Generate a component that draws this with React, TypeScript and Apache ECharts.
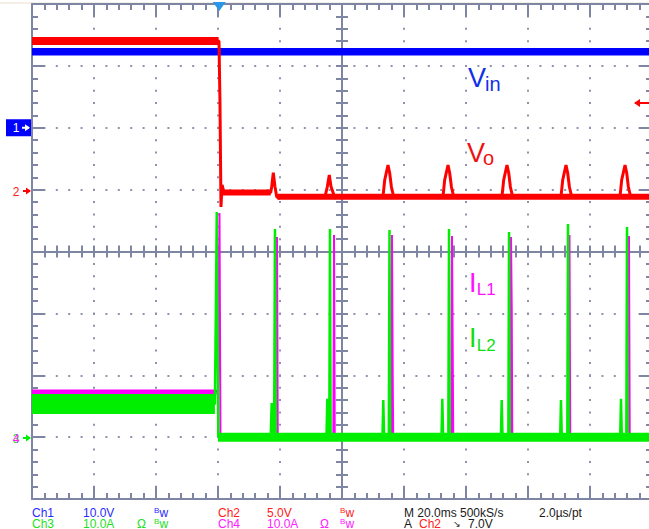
import { useEffect, useRef } from "react";
import * as echarts from "echarts";

// ---------- screen: 10 x 8 divisions (data in division units) ----------
const X_MIN = -5;
const X_MAX = 5;
const Y_MIN = -4;
const Y_MAX = 4;

// ---------- Ch1 : Vin ----------
const vinTrace: number[][] = [[-5, 3.228], [-1.98, 3.228], [5, 3.228]];

// ---------- Ch2 : Vo ----------
const voHighBand: number[][] = [[-5, 3.402], [-1.99, 3.402]];
const voLowBand1: number[][] = [[-1.93, 0.954], [-1.15, 0.954]];
const voLowBand2: number[][] = [[-1.04, 0.885], [5, 0.885]];
const voTrace: number[][] = [
  [-5, 3.402], [-1.984, 3.402],
  [-1.968, 2.4], [-1.952, 0.72], [-1.935, 1.075], [-1.903, 0.954],
  [-1.15, 0.954], [-1.134, 1.047], [-1.108, 1.274], [-1.081, 1.047], [-1.053, 0.886], [-1.016, 0.86], [-0.98, 0.885],
  [-0.274, 0.885], [-0.237, 1.047], [-0.205, 1.236], [-0.177, 1.047], [-0.14, 0.94], [-0.113, 0.86], [-0.08, 0.885],
  [0.64, 0.885], [0.666, 0.93], [0.689, 1.156], [0.742, 1.398], [0.769, 1.269], [0.797, 1.042], [0.834, 0.885],
  [1.61, 0.885], [1.634, 0.93], [1.656, 1.156], [1.71, 1.398], [1.737, 1.269], [1.765, 1.042], [1.802, 0.885],
  [2.56, 0.885], [2.585, 0.93], [2.608, 1.156], [2.661, 1.398], [2.689, 1.269], [2.716, 1.042], [2.753, 0.885],
  [3.51, 0.885], [3.537, 0.93], [3.56, 1.156], [3.613, 1.398], [3.64, 1.269], [3.668, 1.042], [3.705, 0.885],
  [4.46, 0.885], [4.489, 0.93], [4.511, 1.156], [4.565, 1.398], [4.592, 1.269], [4.619, 1.042], [4.656, 0.885],
  [5, 0.885],
];

// ---------- Ch3 : IL2 ----------
const il2HighBand: number[][] = [[-5, -2.465], [-2.05, -2.465]];
const il2FloorBand: number[][] = [[-2.0, -3.0], [5, -3.0]];
const il2Trace: number[][] = [
  [-5, -2.465], [-2.05, -2.465], [-2.035, -1.0], [-2.02, 0.638], [-1.995, -2.99],
  [-1.15, -2.99], [-1.134, -2.45], [-1.118, -2.99],
  [-1.095, -2.99], [-1.081, 0.364], [-1.067, -2.99],
  [-0.25, -2.99], [-0.237, -2.38], [-0.224, -2.99],
  [-0.205, -2.99], [-0.194, 0.364], [-0.183, -2.99],
  [0.653, -2.99], [0.666, -2.4], [0.679, -2.99],
  [0.755, -2.99], [0.766, 0.347], [0.777, -2.99],
  [1.605, -2.99], [1.618, -2.38], [1.631, -2.99],
  [1.715, -2.99], [1.726, 0.364], [1.737, -2.99],
  [2.563, -2.99], [2.576, -2.4], [2.589, -2.99],
  [2.683, -2.99], [2.694, 0.315], [2.705, -2.99],
  [3.519, -2.99], [3.532, -2.4], [3.545, -2.99],
  [3.634, -2.99], [3.645, 0.444], [3.656, -2.99],
  [4.487, -2.99], [4.5, -2.38], [4.513, -2.99],
  [4.586, -2.99], [4.597, 0.396], [4.608, -2.99],
  [5, -2.99],
];

// ---------- Ch4 : IL1 ----------
const il1HighBand: number[][] = [[-5, -2.27], [-2.02, -2.27]];
const il1Trace: number[][] = [
  [-5, -2.254], [-2.0, -2.254], [-1.976, 0.622], [-1.96, -3.01],
  [-1.06, -3.01], [-1.048, 0.234], [-1.036, -3.01],
  [-0.14, -3.01], [-0.129, 0.267], [-0.117, -3.01],
  [0.795, -3.01], [0.806, 0.267], [0.818, -2.03], [0.826, -3.01],
  [1.763, -3.01], [1.774, 0.25], [1.786, -1.64], [1.794, -3.01],
  [2.715, -3.01], [2.726, 0.234], [2.738, -0.945], [2.746, -3.01],
  [3.658, -3.01], [3.669, 0.267], [3.681, -3.01],
  [4.618, -3.01], [4.629, 0.25], [4.641, -3.01],
  [5, -3.01],
];

// ---------- markers (division units) ----------
const ch1Ground = 2.0;
const ch2Ground = 0.978;
const ch34Ground = -3.014;
const trigLevel = 2.4;
const trigTime = -1.98;

// ---------- trace labels: main letter + subscript, anchors in division units ----------
const traceLabels = [
  { main: "V", sub: "in", color: "#1030e8", at: [2.032, 2.802], subAt: [2.306, 2.71] },
  { main: "V", sub: "o", color: "#f01010", at: [2.016, 1.587], subAt: [2.274, 1.516] },
  { main: "I", sub: "L1", color: "#ff10ff", at: [2.048, -0.503], subAt: [2.173, -0.608] },
  { main: "I", sub: "L2", color: "#10e010", at: [2.048, -1.392], subAt: [2.173, -1.513] },
];

// ---------- readout texts ----------
const readoutRow1 = ["Ch1", "10.0V", "Bw", "Ch2", "5.0V", "Bw", "M 20.0ms 500kS/s", "2.0µs/pt"];
const readoutRow2 = ["Ch3", "10.0A", "Ω", "Bw", "Ch4", "10.0A", "Ω", "Bw", "A", "Ch2", "↘", "7.0V"];

const BLUE = "#0000ff";
const RED = "#ff0000";
const GREEN = "#00ee00";
const MAGENTA = "#ff00ff";
const AX = "#7e86a4";
const DOT = "#8d93ad";
const FONT = '"Liberation Sans", Arial, sans-serif';

const TXT_BLUE = "#2a2aff";
const TXT_RED = "#ff2020";
const TXT_GREEN = "#1ee01e";
const TXT_MAG = "#ff20ff";
const TXT_BLACK = "#1a1a1a";

function lineSeries(data: number[][], color: string, width: number, z: number) {
  return {
    type: "line",
    data,
    symbol: "none",
    showSymbol: false,
    silent: true,
    z,
    lineStyle: { color, width, cap: "butt", join: "bevel" },
    itemStyle: { color },
    emphasis: { disabled: true },
  };
}

function txt(x: number, y: number, text: string, fill: string, size: number, align = "left") {
  return {
    type: "text",
    x,
    y,
    silent: true,
    z: 100,
    style: {
      text,
      fill,
      font: `${size}px ${FONT}`,
      align,
      textAlign: align,
      verticalAlign: "middle",
      textVerticalAlign: "middle",
    },
  };
}

function arrow(x1: number, x2: number, y: number, color: string, right: boolean) {
  const head = right
    ? [[x2 + 1, y], [x2 - 4, y - 3.5], [x2 - 4, y + 3.5]]
    : [[x1 - 1, y], [x1 + 5, y - 4], [x1 + 5, y + 4]];
  return [
    { type: "line", silent: true, z: 100, shape: { x1, y1: y, x2, y2: y }, style: { stroke: color, lineWidth: 2 } },
    { type: "polygon", silent: true, z: 100, shape: { points: head }, style: { fill: color } },
  ];
}

function axisBase(extra: any) {
  return {
    type: "value",
    axisLabel: { show: false },
    axisLine: { show: true, onZero: false, lineStyle: { color: AX, width: 2 } },
    axisTick: { show: true, inside: true, length: 13, lineStyle: { color: AX, width: 2 } },
    minorTick: { show: true, splitNumber: 5, length: 6, lineStyle: { color: AX, width: 2 } },
    splitLine: { show: false },
    minorSplitLine: { show: false },
    ...extra,
  };
}

export default function App() {
  const ref = useRef<HTMLDivElement>(null);

  useEffect(() => {
    if (!ref.current) return;
    const chart = echarts.init(ref.current, null, { renderer: "svg" });

    const xCommon = { min: X_MIN, max: X_MAX, interval: 1 };
    const yCommon = { min: Y_MIN, max: Y_MAX, interval: 1 };

    chart.setOption({
      animation: false,
      backgroundColor: "#ffffff",
      grid: { left: 32, top: 4, width: 620, height: 495, containLabel: false, outerBoundsMode: "none" },
      xAxis: [
        axisBase({
          ...xCommon,
          position: "bottom",
          splitLine: { show: true, lineStyle: { color: DOT, width: 2, type: [2, 10.375], dashOffset: 1 } },
        }),
        axisBase({ ...xCommon, position: "top" }),
        axisBase({
          ...xCommon,
          position: "bottom",
          axisLine: { show: true, onZero: true, onZeroAxisIndex: 0, lineStyle: { color: AX, width: 2 } },
          axisTick: { show: true, inside: true, length: 6, lineStyle: { color: AX, width: 2 } },
        }),
        axisBase({
          ...xCommon,
          position: "bottom",
          axisLine: { show: true, onZero: true, onZeroAxisIndex: 0, lineStyle: { color: AX, width: 2 } },
          axisTick: { show: true, inside: false, length: 6, lineStyle: { color: AX, width: 2 } },
        }),
      ],
      yAxis: [
        axisBase({
          ...yCommon,
          position: "left",
          splitLine: { show: true, lineStyle: { color: DOT, width: 2, type: [2, 10.4], dashOffset: 1 } },
        }),
        axisBase({ ...yCommon, position: "right" }),
        axisBase({
          ...yCommon,
          position: "left",
          axisLine: { show: true, onZero: true, onZeroAxisIndex: 0, lineStyle: { color: AX, width: 2 } },
          axisTick: { show: true, inside: true, length: 6, lineStyle: { color: AX, width: 2 } },
        }),
        axisBase({
          ...yCommon,
          position: "left",
          axisLine: { show: true, onZero: true, onZeroAxisIndex: 0, lineStyle: { color: AX, width: 2 } },
          axisTick: { show: true, inside: false, length: 6, lineStyle: { color: AX, width: 2 } },
        }),
      ],
      series: [
        lineSeries(il1HighBand, MAGENTA, 5, 2),
        lineSeries(il1Trace, MAGENTA, 2, 3),
        lineSeries(il2HighBand, GREEN, 20, 4),
        lineSeries(il2FloorBand, GREEN, 9, 4),
        lineSeries(il2Trace, GREEN, 2.5, 5),
        lineSeries(vinTrace, BLUE, 7.5, 6),
        lineSeries(voHighBand, RED, 8, 7),
        lineSeries(voLowBand1, RED, 6, 7),
        lineSeries(voLowBand2, RED, 6, 7),
        lineSeries(voTrace, RED, 3, 8),
      ],
    });

    const p = (x: number, y: number) =>
      chart.convertToPixel({ xAxisIndex: 0, yAxisIndex: 0 }, [x, y]) as number[];
    const [left, top] = p(X_MIN, Y_MAX);
    const [right] = p(X_MAX, Y_MIN);
    const y1 = p(0, ch1Ground)[1];
    const y2 = p(0, ch2Ground)[1];
    const y34 = p(0, ch34Ground)[1];
    const yTrig = p(0, trigLevel)[1];
    const xTrig = p(trigTime, 0)[0];

    const g: any[] = [];
    // window frame line
    g.push({ type: "line", silent: true, z: -10, shape: { x1: 0, y1: 3, x2: 649, y2: 3 }, style: { stroke: "#eadfce", lineWidth: 1 } });

    // Ch1 ground marker
    g.push({ type: "rect", silent: true, z: 100, shape: { x: left - 26, y: y1 - 8.5, width: 25, height: 17 }, style: { fill: BLUE } });
    g.push(txt(left - 16, y1, "1", "#ffffff", 12, "center"));
    g.push(...arrow(left - 10, left - 3, y1, "#ffffff", true));
    // Ch2 ground marker
    g.push(txt(left - 16, y2 + 1, "2", TXT_RED, 12, "center"));
    g.push(...arrow(left - 9, left - 2, y2, RED, true));
    // Ch3 / Ch4 ground marker
    g.push(txt(left - 16, y34 + 1, "3", TXT_GREEN, 12, "center"));
    g.push(txt(left - 16, y34 + 1, "4", TXT_MAG, 12, "center"));
    g.push(...arrow(left - 9, left - 2, y34, GREEN, true));
    // trigger level arrow (right edge)
    g.push(...arrow(right - 17, right, yTrig, RED, false));
    // trigger position marker (top)
    g.push({
      type: "polygon",
      silent: true,
      z: 200,
      shape: { points: [[xTrig - 6.5, top - 2], [xTrig + 6.5, top - 2], [xTrig, top + 7]] },
      style: { fill: "#2a96e6" },
    });

    // trace labels
    for (const l of traceLabels) {
      const a = p(l.at[0], l.at[1]);
      const b = p(l.subAt[0], l.subAt[1]);
      const isI = l.main === "I";
      g.push(txt(a[0], a[1], l.main, l.color, 27));
      g.push(txt(b[0], b[1], l.sub, l.color, isI ? 17 : 20));
    }

    // readout rows
    const r1y = 512.5;
    const r2y = 523.8;
    const r1x = [32, 83, 154, 218, 267, 340, 404, 539];
    const r1c = [TXT_BLUE, TXT_BLUE, TXT_BLUE, TXT_RED, TXT_RED, TXT_RED, TXT_BLACK, TXT_BLACK];
    readoutRow1.forEach((t, i) => {
      if (t === "Bw") {
        g.push(txt(r1x[i], r1y - 2, "B", r1c[i], 8));
        g.push(txt(r1x[i] + 5.5, r1y, "w", r1c[i], 12));
      } else {
        g.push(txt(r1x[i], r1y, t, r1c[i], 12));
      }
    });
    const r2x = [32, 83, 137, 154, 218, 267, 320, 340, 404, 419, 453, 468];
    const r2c = [TXT_GREEN, TXT_GREEN, TXT_GREEN, TXT_GREEN, TXT_MAG, TXT_MAG, TXT_MAG, TXT_MAG, TXT_BLACK, TXT_RED, TXT_BLACK, TXT_BLACK];
    readoutRow2.forEach((t, i) => {
      if (t === "Bw") {
        g.push(txt(r2x[i], r2y - 2, "B", r2c[i], 8));
        g.push(txt(r2x[i] + 5.5, r2y, "w", r2c[i], 12));
      } else {
        g.push(txt(r2x[i], r2y, t, r2c[i], t === "↘" ? 9 : 12));
      }
    });

    chart.setOption({ graphic: g });

    return () => chart.dispose();
  }, []);

  return (
    <div
      ref={ref}
      style={{ position: "absolute", left: 0, top: 0, width: 649, height: 529, background: "#fff" }}
    />
  );
}
